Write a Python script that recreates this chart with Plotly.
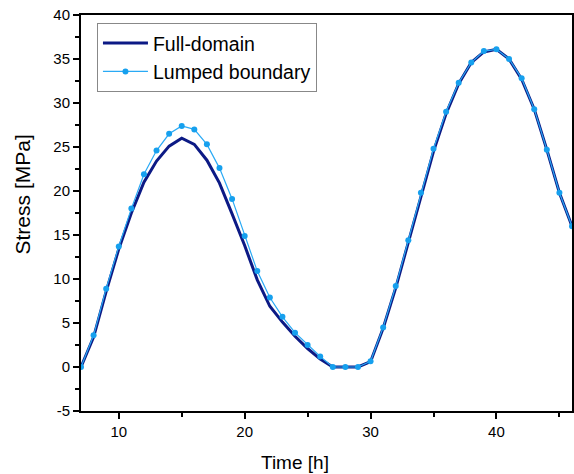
import plotly.graph_objects as go

time_h = list(range(7, 47))
full_domain = [0, 3.4, 8.6, 13.4, 17.5, 21.0, 23.4, 25.1, 26.0, 25.3,
               23.5, 20.9, 17.4, 13.8, 9.9, 6.9, 5.1, 3.5, 2.1, 0.9,
               0, 0, 0, 0.6, 4.4, 9.0, 14.2, 19.5, 24.5, 28.8,
               32.2, 34.6, 35.8, 36.1, 35.0, 32.7, 29.3, 24.7, 19.8, 16.0]
lumped = [0, 3.6, 8.9, 13.7, 18.0, 21.9, 24.6, 26.5, 27.4, 27.0,
          25.3, 22.6, 19.1, 14.9, 10.9, 7.9, 5.7, 3.9, 2.5, 1.2,
          0, 0, 0, 0.65, 4.5, 9.2, 14.4, 19.8, 24.8, 29.0,
          32.3, 34.6, 35.9, 36.1, 35.0, 32.8, 29.3, 24.7, 19.8, 16.0]
y_tick_vals = [-5, 0, 5, 10, 15, 20, 25, 30, 35, 40]
y_tick_text = ["-5", "0", "5", "10", "15", "20", "25", "30", "35", "40"]
x_title = "Time [h]"
y_title = "Stress [MPa]"

FONT = "Arial, Liberation Sans, sans-serif"

fig = go.Figure()
fig.add_trace(go.Scatter(x=time_h, y=full_domain, mode="lines", name="Full-domain",
                         line=dict(color="#0c1a85", width=3)))
fig.add_trace(go.Scatter(x=time_h, y=lumped, mode="lines+markers", name="Lumped boundary",
                         line=dict(color="#2aaaf5", width=1.2),
                         marker=dict(color="#16a0ee", size=6)))

axis_common = dict(showgrid=False, zeroline=False, showline=True, linecolor="black",
                   linewidth=2, mirror=True, ticks="outside", ticklen=6, tickwidth=1.5,
                   tickcolor="black", automargin=False,
                   tickfont=dict(family=FONT, size=15, color="black"))

fig.update_xaxes(range=[7, 46], tick0=0, dtick=10,
                 minor=dict(ticks="outside", ticklen=4, tickwidth=1.5, tickcolor="black", dtick=5, tick0=0),
                 **axis_common)
fig.update_yaxes(range=[-5, 40], tickmode="array", tickvals=y_tick_vals, ticktext=y_tick_text,
                 minor=dict(ticks="outside", ticklen=4, tickwidth=1.5, tickcolor="black", dtick=2.5, tick0=0),
                 **axis_common)

fig.add_annotation(text=x_title, xref="paper", yref="paper", x=0.435, y=-0.131,
                   xanchor="center", yanchor="middle", showarrow=False,
                   font=dict(family=FONT, size=19, color="black"))
fig.add_annotation(text=y_title, xref="paper", yref="paper", x=-0.12, y=0.547,
                   xanchor="center", yanchor="middle", showarrow=False, textangle=-90,
                   font=dict(family=FONT, size=21, color="black"))

fig.update_layout(
    width=574, height=474,
    margin=dict(l=81, r=2, t=15, b=63),
    plot_bgcolor="white", paper_bgcolor="white",
    showlegend=True,
    legend=dict(x=0.0325, y=0.98, xanchor="left", yanchor="top",
                bgcolor="white", bordercolor="#888888", borderwidth=1,
                font=dict(family=FONT, size=19.5, color="black"),
                itemwidth=45, tracegroupgap=0),
)

fig.write_html("out.html", config={"displayModeBar": False},
               post_script="document.body.style.margin='0';document.body.style.overflow='hidden';")
